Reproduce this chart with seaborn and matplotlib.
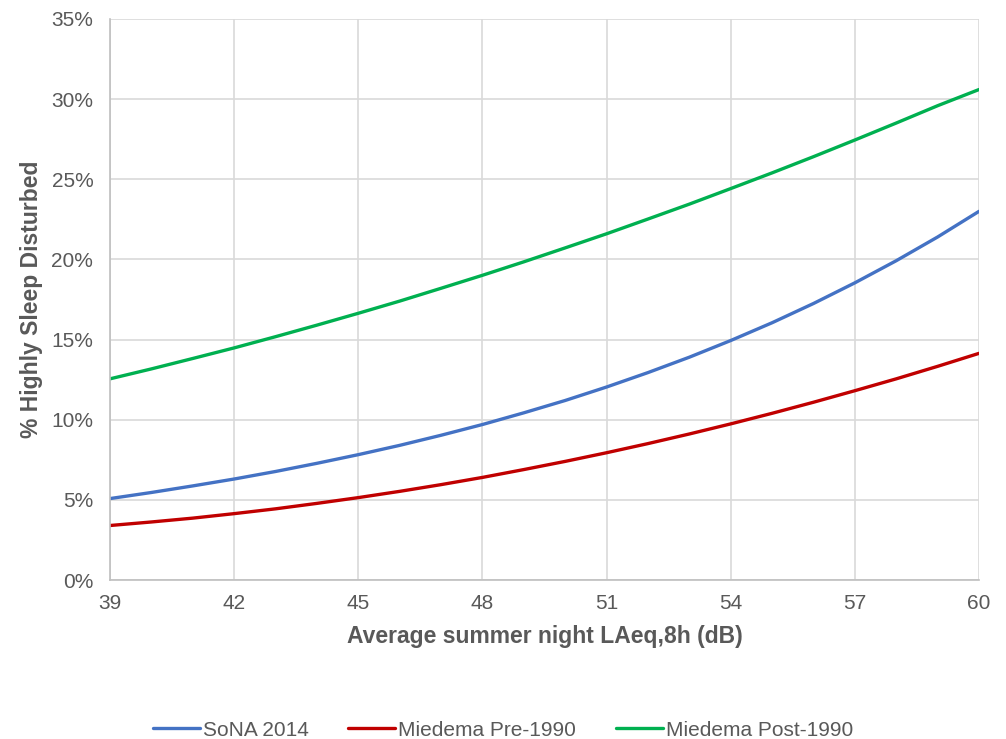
import pandas as pd
import seaborn as sns
import matplotlib.pyplot as plt

# Noise level (dB) and % highly sleep disturbed
laeq = list(range(39, 61))
sona_2014 = [5.08, 5.46, 5.87, 6.30, 6.77, 7.28, 7.82, 8.40, 9.03, 9.70, 10.43,
             11.20, 12.04, 12.94, 13.90, 14.94, 16.05, 17.25, 18.54, 19.92, 21.40, 23.00]
miedema_pre = [3.40, 3.62, 3.86, 4.14, 4.44, 4.78, 5.14, 5.53, 5.95, 6.40, 6.89,
               7.40, 7.94, 8.51, 9.11, 9.74, 10.40, 11.09, 11.81, 12.55, 13.33, 14.14]
miedema_post = [12.55, 13.17, 13.82, 14.48, 15.18, 15.90, 16.64, 17.40, 18.20, 19.01, 19.85,
                20.72, 21.60, 22.52, 23.45, 24.42, 25.40, 26.41, 27.45, 28.51, 29.59, 30.60]
series_names = ['SoNA 2014', 'Miedema Pre-1990', 'Miedema Post-1990']
x_ticks = [39, 42, 45, 48, 51, 54, 57, 60]
y_ticks = [0, 5, 10, 15, 20, 25, 30, 35]

df = pd.DataFrame({
    'LAeq': laeq * 3,
    'HSD': sona_2014 + miedema_pre + miedema_post,
    'Series': [series_names[0]] * len(laeq) + [series_names[1]] * len(laeq) + [series_names[2]] * len(laeq),
})

sns.set_style('white')
plt.rcParams['font.family'] = ['Liberation Sans', 'DejaVu Sans']

grey = '#595959'
palette = {'SoNA 2014': '#4472C4', 'Miedema Pre-1990': '#C00000', 'Miedema Post-1990': '#00B050'}

fig = plt.figure(figsize=(10.06, 7.39), dpi=100)
ax = fig.add_axes([110 / 1006, 1 - 580 / 739, 869 / 1006, 561 / 739])

sns.lineplot(data=df, x='LAeq', y='HSD', hue='Series', palette=palette,
             linewidth=2.4, ax=ax, legend=False)

ax.set_xlim(39, 60)
ax.set_ylim(0, 35)
ax.set_xticks(x_ticks)
ax.set_yticks(y_ticks)
ax.set_yticklabels([f'{v}%' for v in y_ticks])
ax.grid(True, color='#d9d9d9', linewidth=1.2)
ax.set_axisbelow(True)
for side in ['top', 'right']:
    ax.spines[side].set_visible(False)
for side in ['left', 'bottom']:
    ax.spines[side].set_color('#bfbfbf')
    ax.spines[side].set_linewidth(1.2)
ax.tick_params(axis='both', length=0, labelsize=15, colors=grey)
ax.tick_params(axis='y', pad=12)
ax.tick_params(axis='x', pad=10)

ax.set_xlabel('Average summer night LAeq,8h (dB)', fontsize=16.5, fontweight='bold', color=grey, labelpad=9)
ax.set_ylabel('% Highly Sleep Disturbed', fontsize=16.5, fontweight='bold', color=grey, labelpad=6)

handles = [plt.Line2D([], [], color=palette[n], linewidth=2.4) for n in series_names]
fig.legend(handles, series_names, loc='center', bbox_to_anchor=(0.5, 1 - 730 / 739),
           ncol=3, frameon=False, fontsize=15, labelcolor=grey,
           handlelength=2.25, handletextpad=0.15, columnspacing=1.9)

fig.savefig('out.png', dpi=100)
